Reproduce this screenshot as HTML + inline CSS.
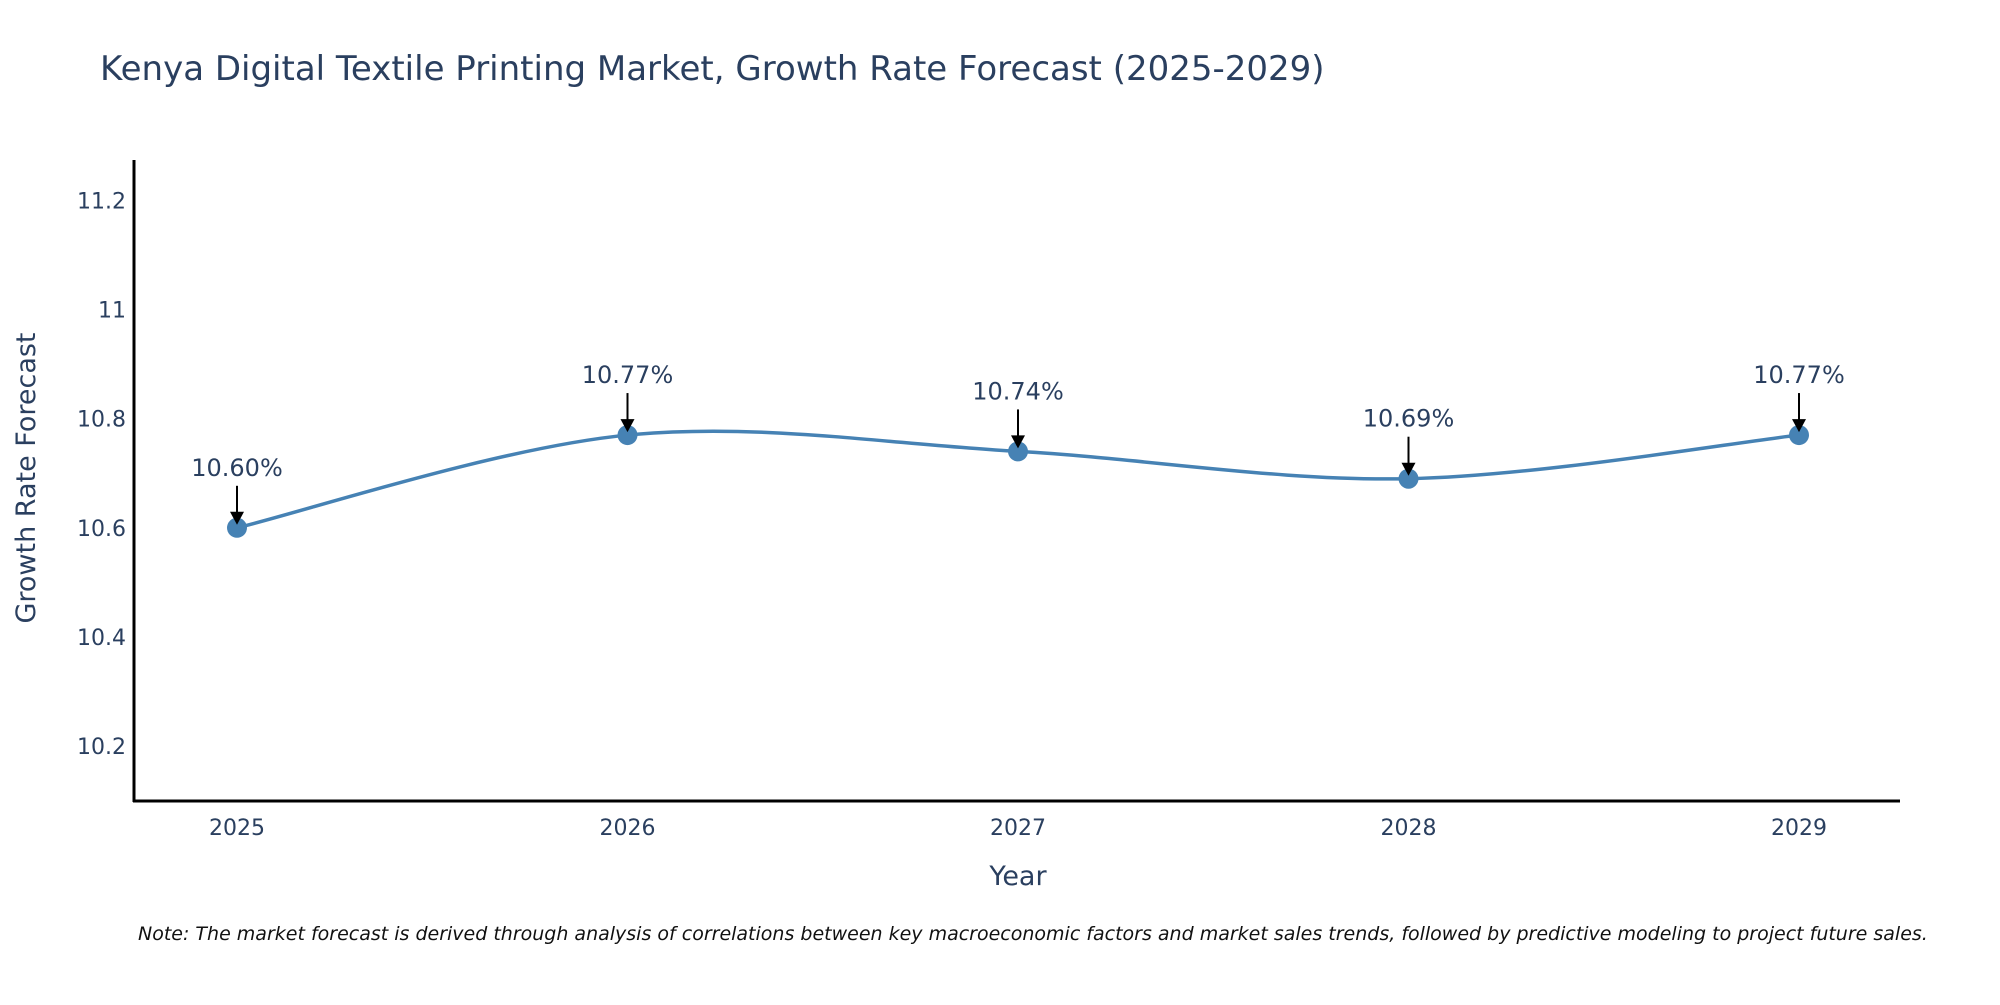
<!DOCTYPE html>
<html><head><meta charset="utf-8"><style>
body{margin:0;background:#fff;}
svg text{font-family:"DejaVu Sans","Liberation Sans",sans-serif;fill:#2a3f5f;}
</style></head><body>
<svg id="chart" width="2000" height="1000" xmlns="http://www.w3.org/2000/svg">
<text x="100" y="80" font-size="34">Kenya Digital Textile Printing Market, Growth Rate Forecast (2025-2029)</text>
<g id="yticks"></g>
<g id="xticks"></g>
<line x1="134" y1="160" x2="134" y2="802" stroke="#000" stroke-width="3"/>
<line x1="133" y1="801" x2="1900" y2="801" stroke="#000" stroke-width="3"/>
<text transform="translate(35,478) rotate(-90)" text-anchor="middle" font-size="27">Growth Rate Forecast</text>
<text x="1018" y="885" text-anchor="middle" font-size="27">Year</text>
<g id="series"></g>
<text x="138" y="940" font-size="19" font-style="italic" style="fill:#111">Note: The market forecast is derived through analysis of correlations between key macroeconomic factors and market sales trends, followed by predictive modeling to project future sales.</text>
</svg>
<script>
const years = [2025, 2026, 2027, 2028, 2029];
const growth = [10.60, 10.77, 10.74, 10.69, 10.77];
const yTickValues = [10.2, 10.4, 10.6, 10.8, 11, 11.2];
const yTickLabels = ["10.2", "10.4", "10.6", "10.8", "11", "11.2"];

const NS = "http://www.w3.org/2000/svg";
function xScale(yr){ return 237 + (yr - 2025) * 390.5; }
function yScale(v){ return 746 - (v - 10.2) * 545.5; }
function mk(tag, attrs, parent){ const e=document.createElementNS(NS,tag); for(const k in attrs) e.setAttribute(k, attrs[k]); parent.appendChild(e); return e; }

const yt=document.getElementById('yticks');
yTickValues.forEach((v,i)=>{
  const t=mk('text',{x:126,y:yScale(v)+8,'text-anchor':'end','font-size':'22'},yt);
  
  
  t.textContent=yTickLabels[i];
});
const xt=document.getElementById('xticks');
years.forEach(yr=>{
  const t=mk('text',{x:xScale(yr),y:835,'text-anchor':'middle','font-size':'22'},xt);
  
  
  t.textContent=String(yr);
});

const g=document.getElementById('series');
const pts=years.map((yr,i)=>[xScale(yr),yScale(growth[i])]);
let d=`M${pts[0][0]},${pts[0][1]}`;
const s=0.5;
for(let i=0;i<pts.length-1;i++){
  const p0=pts[Math.max(0,i-1)],p1=pts[i],p2=pts[i+1],p3=pts[Math.min(pts.length-1,i+2)];
  const c1=[p1[0]+(p2[0]-p0[0])*s/3,p1[1]+(p2[1]-p0[1])*s/3];
  const c2=[p2[0]-(p3[0]-p1[0])*s/3,p2[1]-(p3[1]-p1[1])*s/3];
  d+=` C${c1[0]},${c1[1]} ${c2[0]},${c2[1]} ${p2[0]},${p2[1]}`;
}
const line=mk('path',{d:d,fill:'none',stroke:'#4682b4','stroke-width':'3.5'},g);


pts.forEach((p,i)=>{
  const c=mk('circle',{cx:p[0],cy:p[1],r:10,fill:'#4682b4'},g);
  
  
  const a=mk('line',{x1:p[0],y1:p[1]-42,x2:p[0],y2:p[1]-14,stroke:'#000','stroke-width':'2'},g);
  
  
  const h=mk('polygon',{points:`${p[0]-7},${p[1]-16} ${p[0]+7},${p[1]-16} ${p[0]},${p[1]-3}`,fill:'#000'},g);
  
  
  const t=mk('text',{x:p[0],y:p[1]-52,'text-anchor':'middle','font-size':'24'},g);
  
  
  t.textContent=growth[i].toFixed(2)+'%';
});
</script>
</body></html>
